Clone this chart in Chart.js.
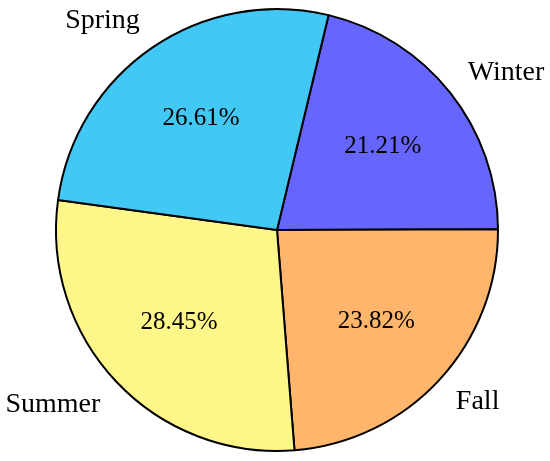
<!DOCTYPE html>
<html>
<head>
<meta charset="utf-8">
<script src="https://cdn.jsdelivr.net/npm/chart.js@4"></script>
<style>
  html, body { margin: 0; padding: 0; background: #fff; }
  #wrap { width: 550px; height: 461px; }
</style>
</head>
<body>
<div id="wrap"><canvas id="seasons" width="550" height="461"></canvas></div>
<script>
// data
const seasons = ["Winter", "Fall", "Summer", "Spring"];
const shares = [21.21, 23.82, 28.45, 26.61];
const sliceColors = ["#6666FF", "#FFB56B", "#FFF68A", "#42C8F5"];

const pctFont = '25px "Liberation Serif", serif';
const nameFont = '28px "Liberation Serif", serif';

// percentages inside, season names outside (aligned away from the centre)
const sliceLabels = {
    id: 'sliceLabels',
    afterDatasetsDraw(chart) {
        const ctx = chart.ctx;
        const meta = chart.getDatasetMeta(0);
        ctx.save();
        ctx.fillStyle = '#000';
        ctx.textBaseline = 'middle';
        meta.data.forEach((arc, i) => {
            const mid = (arc.startAngle + arc.endAngle) / 2;
            const r = arc.outerRadius;
            const cx = Math.cos(mid), cy = Math.sin(mid);
            ctx.font = pctFont;
            ctx.textAlign = 'center';
            ctx.fillText(shares[i].toFixed(2) + '%', arc.x + cx * r * 0.61, arc.y + cy * r * 0.61);
            ctx.font = nameFont;
            ctx.textAlign = cx < 0 ? 'right' : 'left';
            ctx.fillText(seasons[i], arc.x + cx * r * 1.1, arc.y + cy * r * 1.15);
        });
        ctx.restore();
    }
};

new Chart(document.getElementById("seasons").getContext("2d"), {
    type: 'pie',
    data: {
        labels: seasons,
        datasets: [{
            data: shares,
            backgroundColor: sliceColors,
            borderColor: '#000',
            borderWidth: 2,
            hoverOffset: 0
        }]
    },
    options: {
        responsive: false,
        animation: false,
        rotation: 13.5,
        layout: { padding: { top: 8, bottom: 9, left: 4, right: 0 } },
        plugins: {
            legend: { display: false },
            tooltip: { enabled: false }
        }
    },
    plugins: [sliceLabels]
});
</script>
</body>
</html>
